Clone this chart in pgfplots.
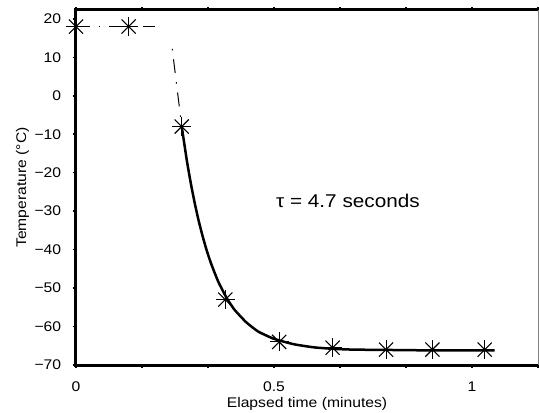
\documentclass[border=0pt]{standalone}
\usepackage{pgfplots}
\pgfplotsset{compat=1.18}
\usepackage{fontspec}
\setmainfont{Liberation Sans}[FakeStretch=1.12]
\usetikzlibrary{calc}

% measured points and the fitted decay curve
\pgfplotstableread{
t T
0 18
0.133 18
0.267 -8
0.377 -53
0.513 -64
0.648 -65.5
0.783 -66
0.9 -66
1.032 -66
}\measured

\begin{document}
\fontsize{14bp}{16bp}\selectfont
\begin{tikzpicture}
\begin{axis}[
    scale only axis,
    width=462bp, height=355bp,
    xmin=0, xmax=1.16667,
    ymin=-70, ymax=22.3,
    axis line style={draw=none},
    xtick={0,0.16667,0.33333,0.5,0.66667,0.83333,1,1.16667},
    xticklabels={0,,,0.5,,,1,},
    ytick={-70,-60,...,20},
    yticklabels={−70,−60,−50,−40,−30,−20,−10,0,10,20},
    xtick pos=both, ytick pos=left,
    tick align=outside,
    major tick length=3bp,
    tick style={line width=1.5bp, black},
    xticklabel style={yshift=-9bp},
    yticklabel style={xshift=-7bp},
    xlabel={Elapsed time (minutes)},
    ylabel={Temperature (°C)},
    xlabel style={yshift=4bp},
    ylabel style={yshift=-4bp},
    clip=false,
]
% frame
\draw[line width=3bp] (rel axis cs:1,1) -- (rel axis cs:0,1) -- (rel axis cs:0,0) -- (rel axis cs:1,0);
\draw[line width=1bp, gray] (rel axis cs:1,0) -- (rel axis cs:1,1);
\coordinate (sw) at (rel axis cs:0,0);
\coordinate (ne) at (rel axis cs:1,1);

% dash-dot connectors
\addplot[black, line width=1bp, dash pattern=on 14bp off 9bp on 1.5bp off 9bp] coordinates {(0,18) (0.2,18)};
\addplot[black, line width=1bp, dash pattern=on 1.5bp off 9bp on 14bp off 9bp] coordinates {(0.243,12.2) (0.267,-8)};

% fitted exponential
\addplot[black, line width=2.5bp, smooth, tension=0.3] coordinates {
(0.267,-8) (0.28,-16.9) (0.29,-22.8) (0.30,-28.0) (0.31,-32.6) (0.32,-36.6)
(0.33,-40.2) (0.34,-43.3) (0.35,-46.0) (0.36,-48.5) (0.38,-52.5) (0.40,-55.6)
(0.43,-58.9) (0.46,-61.3) (0.50,-63.2) (0.55,-64.6) (0.60,-65.4) (0.65,-65.8)
(0.70,-66.0) (0.80,-66.1) (0.90,-66.2) (1.057,-66.2)
};

% star marks
\addplot[only marks, mark=+, mark size=9.5bp, mark options={line width=1.1bp, black}] table[x=t, y=T] {\measured};
\addplot[only marks, mark=x, mark size=10bp, mark options={line width=1.1bp, black}] table[x=t, y=T] {\measured};

\node[anchor=west, font=\fontsize{18.5bp}{20bp}\selectfont, inner sep=0pt] at (axis cs:0.505,-27.3) {τ = 4.7 seconds};
\end{axis}
\pgfresetboundingbox
\path ($(sw)+(-76bp,-48bp)$) rectangle ($(ne)+(1bp,10bp)$);
\end{tikzpicture}
\end{document}
